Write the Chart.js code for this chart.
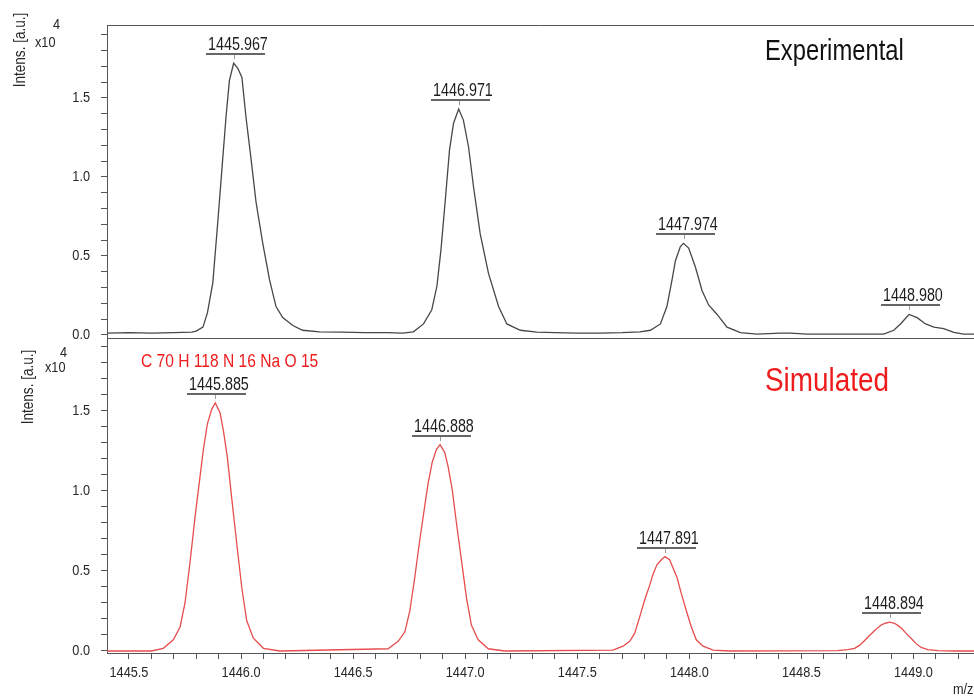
<!DOCTYPE html>
<html><head><meta charset="utf-8">
<script src="https://cdn.jsdelivr.net/npm/chart.js@4/dist/chart.umd.min.js"></script>
<style>
html,body{margin:0;padding:0;background:#fff;}
#wrap{position:relative;width:974px;height:697px;overflow:hidden;background:#fff;}
#c1{position:absolute;left:0;top:0;width:974px;height:345px;}
#c2{position:absolute;left:0;top:330px;width:974px;height:367px;}
</style></head><body>
<div id="wrap"><canvas id="c1" width="974" height="345"></canvas><canvas id="c2" width="974" height="367"></canvas></div>
<script>
// ---- data (intensity in units of 10^4 a.u.) ----
const expX = [1445.40,1445.50,1445.60,1445.70,1445.78,1445.80,1445.83,1445.85,1445.874,1445.896,1445.918,1445.933,1445.948,1445.967,1445.985,1446.004,1446.022,1446.045,1446.067,1446.097,1446.127,1446.156,1446.186,1446.231,1446.275,1446.35,1446.45,1446.55,1446.65,1446.72,
  1446.769,1446.814,1446.851,1446.874,1446.892,1446.911,1446.930,1446.948,1446.971,1446.992,1447.015,1447.037,1447.067,1447.104,1447.149,1447.186,1447.246,1447.32,1447.40,1447.50,1447.60,1447.70,1447.78,
  1447.826,1447.871,1447.900,1447.923,1447.938,1447.960,1447.974,1447.997,1448.027,1448.057,1448.086,1448.124,1448.168,1448.228,1448.302,1448.406,1448.451,1448.525,1448.65,1448.75,1448.867,
  1448.912,1448.942,1448.980,1449.016,1449.054,1449.091,1449.135,1449.180,1449.224,1449.27];
const expY = [0.012,0.015,0.012,0.015,0.018,0.025,0.05,0.14,0.33,0.71,1.11,1.38,1.61,1.72,1.69,1.63,1.38,1.11,0.84,0.58,0.35,0.18,0.11,0.06,0.03,0.02,0.018,0.015,0.015,0.012,
  0.02,0.07,0.16,0.31,0.54,0.85,1.17,1.34,1.43,1.36,1.19,0.94,0.64,0.39,0.18,0.07,0.03,0.018,0.015,0.012,0.012,0.015,0.02,
  0.03,0.07,0.18,0.35,0.47,0.56,0.58,0.55,0.43,0.28,0.19,0.13,0.05,0.015,0.006,0.012,0.012,0.005,0.005,0.005,0.005,
  0.03,0.07,0.13,0.11,0.07,0.05,0.04,0.017,0.005,0.005];

const simX = [1445.40,1445.60,
  1445.653,1445.698,1445.728,1445.750,1445.772,1445.795,1445.817,1445.832,1445.850,1445.869,1445.885,1445.906,1445.921,1445.939,1445.958,1445.981,1446.003,1446.025,1446.055,1446.100,1446.174,
  1446.656,1446.701,1446.731,1446.753,1446.775,1446.798,1446.820,1446.835,1446.853,1446.872,1446.888,1446.909,1446.924,1446.942,1446.961,1446.984,1447.006,1447.028,1447.058,1447.103,1447.177,
  1447.659,1447.704,1447.734,1447.756,1447.778,1447.801,1447.823,1447.838,1447.856,1447.875,1447.891,1447.912,1447.927,1447.945,1447.964,1447.987,1448.009,1448.031,1448.061,1448.106,1448.180,
  1448.662,1448.707,1448.737,1448.759,1448.781,1448.804,1448.826,1448.841,1448.859,1448.878,1448.894,1448.915,1448.930,1448.948,1448.967,1448.990,1449.012,1449.034,1449.064,1449.109,1449.183,1449.27];
const simY = [0,0,
  0.017,0.07,0.15,0.30,0.55,0.84,1.09,1.26,1.42,1.51,1.55,1.49,1.38,1.21,0.96,0.67,0.40,0.19,0.08,0.017,0,
  0.014,0.06,0.12,0.25,0.46,0.70,0.91,1.05,1.18,1.26,1.29,1.24,1.15,1.01,0.80,0.56,0.33,0.16,0.07,0.014,0,
  0.006,0.03,0.06,0.11,0.21,0.32,0.41,0.48,0.54,0.57,0.59,0.57,0.52,0.46,0.36,0.25,0.15,0.07,0.03,0.006,0,
  0.002,0.008,0.017,0.035,0.064,0.097,0.126,0.146,0.165,0.175,0.18,0.173,0.16,0.14,0.11,0.078,0.046,0.022,0.009,0.002,0,0];

const expPeakMz = [1445.967,1446.971,1447.974,1448.980];
const expPeakInt = [1.72,1.43,0.58,0.13];
const expPeakLabels = ['1445.967','1446.971','1447.974','1448.980'];
const simPeakMz = [1445.885,1446.888,1447.891,1448.894];
const simPeakInt = [1.55,1.29,0.59,0.18];
const simPeakLabels = ['1445.885','1446.888','1447.891','1448.894'];

const yMajorTicks = [0.0,0.5,1.0,1.5];
const yTickLabels = ['0.0','0.5','1.0','1.5'];
const xMajorTicks = [1445.5,1446.0,1446.5,1447.0,1447.5,1448.0,1448.5,1449.0];
const xTickLabels = ['1445.5','1446.0','1446.5','1447.0','1447.5','1448.0','1448.5','1449.0'];

// minor tick positions (every 0.1)
const yTickVals = []; for (let i = 0; i <= 19; i++) yTickVals.push(i / 10);
const xTickVals = []; for (let i = 14455; i <= 14492; i++) xTickVals.push(i / 10);

const FONT = "'Liberation Sans',Arial,sans-serif";
const NARROW = 0.82;
const AXIS = '#555555';
const TXT = '#262626';
const EXP_COLOR = '#474747';
const SIM_COLOR = '#e64d4d';
const RED_TEXT = '#ee1c1c';

// draw narrow (horizontally condensed) text, like Arial Narrow
function nText(ctx, text, x, y, size, color, align) {
  ctx.save();
  ctx.font = size + 'px ' + FONT;
  ctx.fillStyle = color;
  ctx.textBaseline = 'middle';
  ctx.textAlign = align || 'left';
  ctx.translate(x, y);
  ctx.scale(NARROW, 1);
  ctx.fillText(text, 0, 0);
  ctx.restore();
}

function drawTickLabels(chart, showX) {
  const ctx = chart.ctx, xs = chart.scales.x, ys = chart.scales.y;
  for (let i = 0; i < yMajorTicks.length; i++) {
    nText(ctx, yTickLabels[i], 90, ys.getPixelForValue(yMajorTicks[i]), 15.5, TXT, 'right');
  }
  if (showX) {
    for (let i = 0; i < xMajorTicks.length; i++) {
      nText(ctx, xTickLabels[i], xs.getPixelForValue(xMajorTicks[i]), xs.top + 20, 15.5, TXT, 'center');
    }
  }
}

function drawPeakLabels(chart, mz, inten, labels) {
  const ctx = chart.ctx, xs = chart.scales.x, ys = chart.scales.y;
  for (let i = 0; i < mz.length; i++) {
    const px = Math.round(xs.getPixelForValue(mz[i]));
    const py = Math.round(ys.getPixelForValue(inten[i]));
    nText(ctx, labels[i], px - 26, py - 18, 17.5, '#1e1e1e', 'left');
    ctx.save();
    ctx.strokeStyle = '#666'; ctx.lineWidth = 2;
    ctx.beginPath(); ctx.moveTo(px - 28, py - 9); ctx.lineTo(px + 31, py - 9); ctx.stroke();
    ctx.strokeStyle = '#999'; ctx.lineWidth = 1;
    ctx.beginPath(); ctx.moveTo(px + 0.5, py - 8); ctx.lineTo(px + 0.5, py - 4); ctx.stroke();
    ctx.restore();
  }
}

function drawYTitle(ctx, cx, cy, x10x, x10y, fx, fy) {
  ctx.save();
  ctx.font = '16.5px ' + FONT;
  ctx.fillStyle = TXT;
  ctx.translate(cx, cy); ctx.rotate(-Math.PI / 2);
  ctx.scale(NARROW, 1);
  ctx.textAlign = 'center'; ctx.textBaseline = 'middle';
  ctx.fillText('Intens. [a.u.]', 0, 0);
  ctx.restore();
  nText(ctx, 'x10', x10x, x10y, 15.5, TXT, 'left');
  nText(ctx, '4', fx, fy, 15.5, TXT, 'left');
}

const topPlugin = {
  id: 'topPanel',
  afterDraw(chart) {
    const ctx = chart.ctx, ca = chart.chartArea;
    ctx.save();
    ctx.strokeStyle = AXIS; ctx.lineWidth = 1;
    ctx.beginPath();
    ctx.moveTo(ca.left, ca.top + 0.5); ctx.lineTo(ca.right, ca.top + 0.5);
    ctx.moveTo(ca.left, ca.bottom + 0.5); ctx.lineTo(ca.right, ca.bottom + 0.5);
    ctx.stroke();
    ctx.restore();
    drawTickLabels(chart, false);
    drawPeakLabels(chart, expPeakMz, expPeakInt, expPeakLabels);
    drawYTitle(ctx, 20, 50, 35, 43, 53, 25);
    nText(ctx, 'Experimental', 765, 52, 29, '#111', 'left');
  }
};

const botPlugin = {
  id: 'botPanel',
  afterDraw(chart) {
    const ctx = chart.ctx, ca = chart.chartArea;
    ctx.save();
    ctx.strokeStyle = AXIS; ctx.lineWidth = 1;
    ctx.beginPath();
    ctx.moveTo(ca.left, ca.top + 0.5); ctx.lineTo(ca.right, ca.top + 0.5);
    ctx.stroke();
    ctx.restore();
    drawTickLabels(chart, true);
    drawPeakLabels(chart, simPeakMz, simPeakInt, simPeakLabels);
    drawYTitle(ctx, 28.5, 57, 45, 38, 60, 23);
    nText(ctx, 'Simulated', 765, 52, 34, RED_TEXT, 'left');
    nText(ctx, 'C 70 H 118 N 16 Na O 15', 141, 32, 19, RED_TEXT, 'left');
    nText(ctx, 'm/z', 953, 360, 15.5, TXT, 'left');
  }
};

function makeChart(canvas, xData, yData, color, yMin, yMax, padTop, padBottom, showX, plugin) {
  return new Chart(canvas, {
    type: 'line',
    data: { datasets: [{ data: xData.map((x, i) => ({ x: x, y: yData[i] })), borderColor: color, borderWidth: 1.3, pointRadius: 0, tension: 0, fill: false }] },
    options: {
      responsive: false, animation: false, devicePixelRatio: 1,
      layout: { padding: { left: 0, right: 0, top: padTop, bottom: padBottom } },
      plugins: { legend: { display: false }, tooltip: { enabled: false } },
      scales: {
        x: {
          type: 'linear', min: 1445.402, max: 1449.27, display: showX,
          afterBuildTicks: s => { s.ticks = xTickVals.map(v => ({ value: v })); },
          afterFit: s => { s.height = showX ? 44 : 0; s.paddingLeft = 0; s.paddingRight = 0; s.paddingTop = 0; s.paddingBottom = 0; },
          grid: { drawOnChartArea: false, drawTicks: true, tickLength: 6, color: AXIS },
          border: { display: true, color: AXIS },
          ticks: { autoSkip: false, maxRotation: 0, minRotation: 0, padding: 4, font: { family: FONT, size: 15 },
                   callback: () => '' }
        },
        y: {
          type: 'linear', min: yMin, max: yMax,
          afterBuildTicks: s => { s.ticks = yTickVals.map(v => ({ value: v })); },
          afterFit: s => { s.width = 107; s.paddingTop = 0; s.paddingBottom = 0; s.paddingLeft = 0; s.paddingRight = 0; },
          grid: { drawOnChartArea: false, drawTicks: true, tickLength: 6, color: AXIS },
          border: { display: true, color: AXIS },
          ticks: { autoSkip: false, padding: 11, font: { family: FONT, size: 15 },
                   callback: () => '' }
        }
      }
    },
    plugins: [plugin]
  });
}

makeChart(document.getElementById('c1'), expX, expY, EXP_COLOR, -0.019, 1.962, 25, 7, false, topPlugin);
makeChart(document.getElementById('c2'), simX, simY, SIM_COLOR, -0.0125, 1.956, 8, 0, true, botPlugin);
</script>
</body></html>
